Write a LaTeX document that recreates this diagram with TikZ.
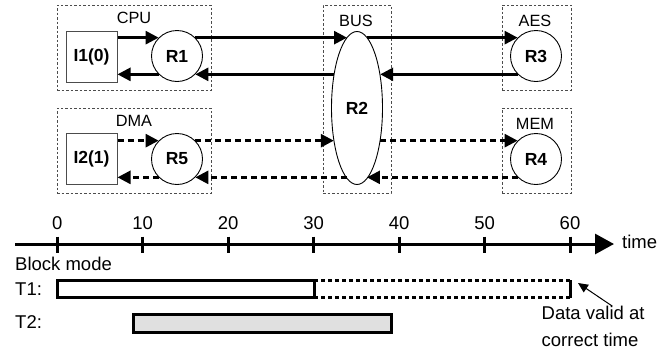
\documentclass[tikz,border=0pt]{standalone}
\usepackage{fontspec}
\setmainfont{Liberation Sans}
\usetikzlibrary{shapes.geometric, arrows.meta}

\begin{document}
\begin{tikzpicture}[x=1pt, y=-1pt,
  region/.style={draw=black!70, line width=0.8pt, dash pattern=on 2.5pt off 2pt, inner sep=0pt},
  reglabel/.style={anchor=base, inner sep=0pt, font=\fontsize{16.3}{19}\selectfont},
  router/.style={circle, draw, line width=0.9pt, minimum size=51pt, inner sep=0pt, font=\fontsize{17.5}{20}\selectfont\bfseries},
  ipcore/.style={rectangle, draw=black!70, line width=1pt, minimum size=51pt, inner sep=0pt, font=\fontsize{17.5}{20}\selectfont\bfseries},
  busnode/.style={ellipse, draw, line width=0.9pt, minimum width=51pt, minimum height=153pt, inner sep=0pt, font=\fontsize{17.5}{20}\selectfont\bfseries},
  link/.style={line width=2.6pt, -{Triangle[length=13pt, width=13pt]}},
  dlink/.style={link, dash pattern=on 6pt off 4pt},
  axis/.style={line width=3pt, -{Triangle[length=19pt, width=20pt]}},
  tickmark/.style={line width=3pt},
  txt/.style={inner sep=0pt, font=\fontsize{18.5}{26.5}\selectfont},
  bar/.style={line width=3pt},
  dotbar/.style={line width=3pt, dash pattern=on 3.5pt off 3.5pt},
  pointer/.style={line width=1pt, -{Triangle[length=10pt, width=9pt]}}]
  \useasboundingbox (0,0) rectangle (671,354);
  \node[region, minimum width=154pt, minimum height=85pt] (cpu) at (134,47.5) {};
  \node[region, minimum width=154pt, minimum height=85pt] (dma) at (134,150.5) {};
  \node[region, minimum width=68pt, minimum height=188pt] (bus) at (357,99) {};
  \node[region, minimum width=69pt, minimum height=85pt] (aes) at (536.5,47.5) {};
  \node[region, minimum width=69pt, minimum height=85pt] (mem) at (536.5,150.5) {};
  \node[reglabel] (cpulbl) at (134,23.3) {CPU};
  \node[reglabel] (dmalbl) at (134,126) {DMA};
  \node[reglabel] (buslbl) at (356,26) {BUS};
  \node[reglabel] (aeslbl) at (535,26) {AES};
  \node[reglabel] (memlbl) at (535,129) {MEM};
  \node[ipcore] (I1) at (91.5,56.5) {I1(0)};
  \node[ipcore] (I2) at (91.5,158.5) {I2(1)};
  \node[router] (R1) at (177,56) {R1};
  \node[router] (R5) at (177,159) {R5};
  \node[router] (R3) at (536,56) {R3};
  \node[router] (R4) at (536,159) {R4};
  \node[busnode] (R2) at (357,108) {R2};
  \draw[link] (I1.east |- R1.135) -- (R1.135);
  \draw[link] (R1.45) -- (R2.98 |- R1.45);
  \draw[link] (R2.82 |- R3.135) -- (R3.135);
  \draw[link] (R3.225) -- (R2.56 |- R3.225);
  \draw[link] (R2.124 |- R1.315) -- (R1.315);
  \draw[link] (R1.225) -- (I1.east |- R1.225);
  \draw[dlink] (I2.east |- R5.135) -- (R5.135);
  \draw[dlink] (R5.45) -- (R2.236 |- R5.45);
  \draw[dlink] (R2.304 |- R4.135) -- (R4.135);
  \draw[dlink] (R4.225) -- (R2.278 |- R4.225);
  \draw[dlink] (R2.262 |- R5.315) -- (R5.315);
  \draw[dlink] (R5.225) -- (I2.east |- R5.225);
  \coordinate (axstart) at (15,244);
  \coordinate (axend) at (614,244);
  \draw[axis] (axstart) -- (axend);
  \foreach \t in {0,10,...,60} {
    \draw[tickmark] (57.3+8.545*\t,236.5) -- (57.3+8.545*\t,252.5);
    \node[txt, anchor=base] (n\t) at (57.3+8.545*\t,229.5) {\t};
  }
  \node[txt, anchor=base west] (timelbl) at (622,248.5) {time};
  \node[txt, anchor=base west] (mode) at (15,270) {Block mode};
  \node[txt, anchor=base west] (T1) at (15,295) {T1:};
  \node[txt, anchor=base west] (T2) at (15,328.5) {T2:};
  \coordinate (t1a) at (57.3,280);
  \coordinate (t1b) at (314.3,297.7);
  \coordinate (t1c) at (570,280);
  \coordinate (t1d) at (570,297.7);
  \draw[bar] (t1a) rectangle (t1b);
  \draw[dotbar] (t1a -| t1b) -- (t1c);
  \draw[dotbar] (t1b) -- (t1d);
  \draw[bar] (t1c) -- (t1d);
  \draw[bar, fill=black!12] (133.3,314.3) rectangle (391.7,332.3);
  \node[txt, anchor=north west, align=left] (valid) at (541.5,306) {Data valid at\\correct time};
  \coordinate (validtip) at (578,283);
  \draw[pointer] ([xshift=19pt]valid.north) -- (validtip);
\end{tikzpicture}
\end{document}
